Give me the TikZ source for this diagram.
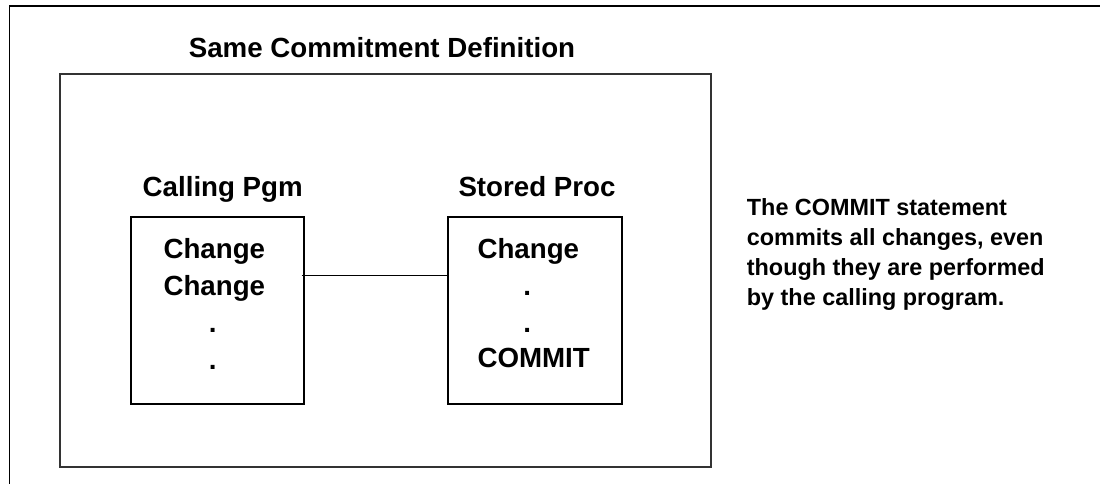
\documentclass[tikz,border=0pt]{standalone}
\usepackage{fontspec}
\setmainfont{Liberation Sans}
\begin{document}
\begin{tikzpicture}[x=1pt,y=-1pt,
  big/.style={font=\fontsize{27.7}{33}\selectfont\bfseries, inner sep=0pt},
  note/.style={font=\fontsize{23.4}{30}\selectfont\bfseries, inner sep=0pt},
  outerbox/.style={draw=black!80, line width=2pt, anchor=north west, inner sep=0pt},
  progbox/.style={draw=black, line width=1.5pt, anchor=north west, inner sep=0pt},
  link/.style={draw=black, line width=1.3pt}]
\useasboundingbox (0,0) rectangle (1100,483);
% page frame (partially visible)
\coordinate (fbl) at (9.3,490);
\coordinate (ftl) at (9.3,6);
\coordinate (ftr) at (1110,6);
\draw[line width=1.6pt, black] (fbl) -- (ftl) -- (ftr);
% outer box
\node[outerbox, minimum width=650.5pt, minimum height=393.5pt] (outer) at (59.3,72.5) {};
\node[big, anchor=base] (title) at (382,57) {Same Commitment Definition};
% inner boxes
\node[progbox, minimum width=173pt, minimum height=187pt] (cp) at (130,216) {};
\node[progbox, minimum width=173.7pt, minimum height=187pt] (sp) at (447.3,216) {};
\node[big, anchor=base west] (cplabel) at (142.5,196) {Calling Pgm};
\node[big, anchor=base west] (splabel) at (458.3,196) {Stored Proc};
% calling program contents
\node[big, anchor=base west] (c1) at (163.3,258.3) {Change};
\node[big, anchor=base west] (c2) at (163.3,295) {Change};
\node[big, anchor=base] (c3) at (212.7,332) {.};
\node[big, anchor=base] (c4) at (212.7,369) {.};
% stored proc contents
\node[big, anchor=base west] (s1) at (477.3,258.3) {Change};
\node[big, anchor=base] (s2) at (527.3,295.3) {.};
\node[big, anchor=base] (s3) at (527.3,332) {.};
\node[big, anchor=base west] (s4) at (477.3,367) {COMMIT};
% connector
\coordinate (ly) at (0,275.7);
\draw[link] ([xshift=-3pt]cp.east |- ly) -- (sp.west |- ly);
% note
\node[note, anchor=base west] (n1) at (746.7,215) {The COMMIT statement};
\node[note, anchor=base west] (n2) at (746.7,245) {commits all changes, even};
\node[note, anchor=base west] (n3) at (746.7,275) {though they are performed};
\node[note, anchor=base west] (n4) at (746.7,305) {by the calling program.};
\end{tikzpicture}
\end{document}
